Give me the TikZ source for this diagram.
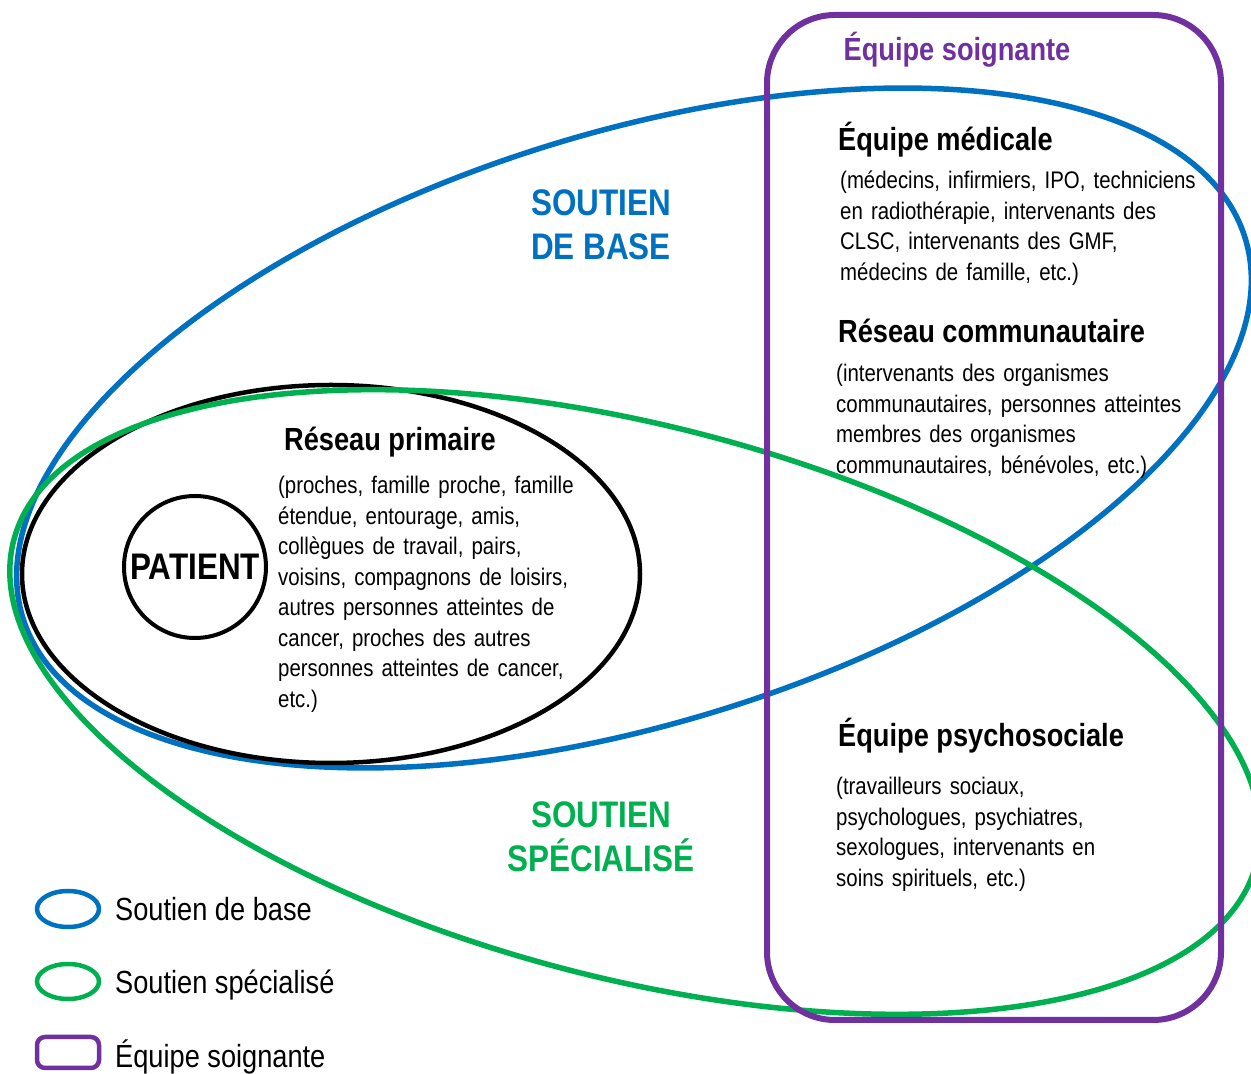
\documentclass[tikz,border=0pt]{standalone}
\usepackage{fontspec}
\setmainfont{Liberation Sans}[FakeStretch=0.85]
\usetikzlibrary{shapes.geometric,positioning}
\definecolor{bleubase}{HTML}{0070C0}
\definecolor{vertspec}{HTML}{00B050}
\definecolor{violetequipe}{HTML}{7030A0}
\newcommand{\espacesliste}{\spaceskip=0.34em plus 0.1em\relax}
\begin{document}
\begin{tikzpicture}[x=1pt,y=1pt,
	titre/.style={font=\fontsize{32}{36}\selectfont\bfseries,anchor=base west,inner sep=0pt},
	liste/.style={font=\fontsize{24}{30.5}\selectfont\espacesliste,align=left,anchor=north west,inner sep=0pt},
	grand/.style={font=\fontsize{37}{44}\selectfont\bfseries,align=center,inner sep=0pt},
	legende/.style={font=\fontsize{32}{36}\selectfont,anchor=base west,inner sep=0pt},
	zone/.style={draw,ellipse,inner sep=0pt}]
	\useasboundingbox (0,0) rectangle (1251,1074);
	% les ensembles
	\node (base) [zone,draw=bleubase,line width=5.5pt,rotate=17.3,minimum width=1280pt,minimum height=590pt] at (634,646){};
	\node (primaire) [zone,line width=4.5pt,minimum width=618pt,minimum height=378pt] at (331,500){};
	\node (spec) [zone,draw=vertspec,line width=5.5pt,rotate=-14.6,minimum width=1284pt,minimum height=552pt] at (635,372){};
	\node (equipe) [draw=violetequipe,line width=6pt,rounded corners=68pt,minimum width=454pt,minimum height=1005pt] at (994,556.5){};
	\node (patient) [draw,circle,line width=4pt,minimum size=142pt,inner sep=0pt,font=\fontsize{37}{44}\selectfont\bfseries] at (195,507){PATIENT};
	% titres
	\node (tequipe) [titre,anchor=base,text=violetequipe] at (957,1013){Équipe soignante};
	\node (tmedicale) [titre] at (838,923){Équipe médicale};
	\node (lmedicale) [liste] at (840,903){(médecins, infirmiers, IPO, techniciens\\en radiothérapie, intervenants des\\CLSC, intervenants des GMF,\\médecins de famille, etc.)};
	\node (tcommun) [titre] at (838,731){Réseau communautaire};
	\node (lcommun) [liste] at (836,710){(intervenants des organismes\\communautaires, personnes atteintes\\membres des organismes\\communautaires, bénévoles, etc.)};
	\node (tpsycho) [titre] at (838,327){Équipe psychosociale};
	\node (lpsycho) [liste] at (836,297){(travailleurs sociaux,\\psychologues, psychiatres,\\sexologues, intervenants en\\soins spirituels, etc.)};
	\node (tprimaire) [titre] at (284,623){Réseau primaire};
	\node (lprimaire) [liste] at (278,598){(proches, famille proche, famille\\étendue, entourage, amis,\\collègues de travail, pairs,\\voisins, compagnons de loisirs,\\autres personnes atteintes de\\cancer, proches des autres\\personnes atteintes de cancer,\\etc.)};
	\node (gbase) [grand,text=bleubase] at (601,849){SOUTIEN\\DE BASE};
	\node (gspec) [grand,text=vertspec] at (601,237){SOUTIEN\\SPÉCIALISÉ};
	% legende
	\node (lbase) [zone,draw=bleubase,line width=4.5pt,minimum width=62pt,minimum height=36pt] at (68,165){};
	\node (lspec) [zone,draw=vertspec,line width=4.5pt,minimum width=62pt,minimum height=35pt] at (68,92.5){};
	\node (lequipe) [draw=violetequipe,line width=4.5pt,rounded corners=8pt,minimum width=62pt,minimum height=31pt,inner sep=0pt] at (68,21.5){};
	\node [legende] at (115,153.5){Soutien de base};
	\node [legende] at (115,80.5){Soutien spécialisé};
	\node [legende] at (115,6.5){Équipe soignante};
\end{tikzpicture}
\end{document}
